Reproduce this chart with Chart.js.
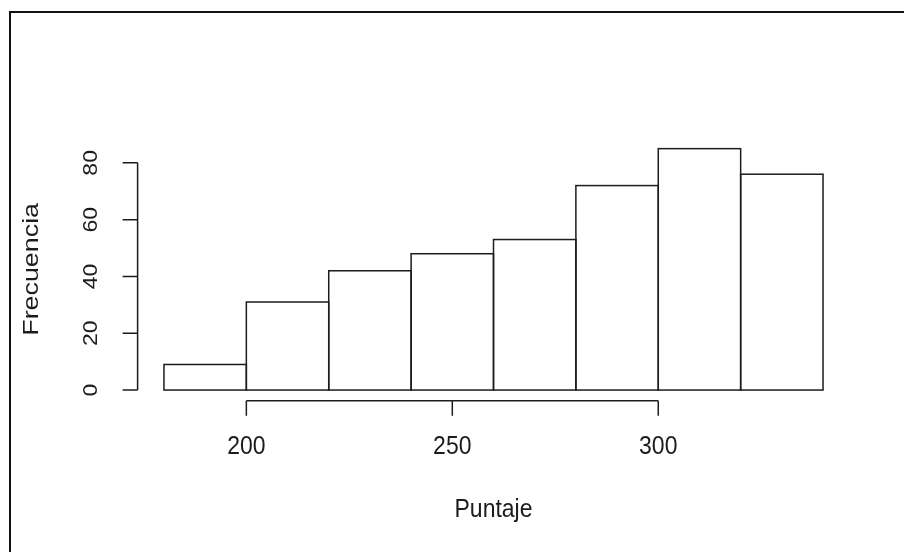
<!DOCTYPE html>
<html>
<head>
<meta charset="utf-8">
<script src="https://cdn.jsdelivr.net/npm/chart.js@4"></script>
<style>
  body { margin: 0; background: #fff; }
  #wrap { width: 904px; height: 552px; position: relative; }
</style>
</head>
<body>
<div id="wrap"><canvas id="myChart"></canvas></div>
<script>
// histogram data
const binEdges = [180, 200, 220, 240, 260, 280, 300, 320, 340];
const counts = [9, 31, 42, 48, 53, 72, 85, 76];
const xTicks = [200, 250, 300];
const yTicks = [0, 20, 40, 60, 80];
const xTitle = 'Puntaje';
const yTitle = 'Frecuencia';

const ink = '#1c1c1c';
const fontName = '"Liberation Sans", Arial, sans-serif';

// R style range: data range plus 4% on each side
const xMin = binEdges[0], xMax = binEdges[binEdges.length - 1];
const yMax = Math.max(...counts);
const xPad = (xMax - xMin) * 0.04;
const yPad = yMax * 0.04;

const points = counts.map((c, i) => ({ x: (binEdges[i] + binEdges[i + 1]) / 2, y: c }));

// text drawn a little taller than wide, like the picture
function stretchedText(ctx, txt, x, y, size, rotated, vStretch) {
    ctx.save();
    ctx.translate(x, y);
    if (rotated) {
        ctx.rotate(-Math.PI / 2);
        ctx.scale(vStretch, 1);
    } else {
        ctx.scale(1, vStretch);
    }
    ctx.font = size + 'px ' + fontName;
    ctx.fillStyle = ink;
    ctx.textAlign = 'center';
    ctx.textBaseline = 'middle';
    ctx.fillText(txt, 0, 0);
    ctx.restore();
}

const rPlot = {
    id: 'rPlot',
    beforeDraw(chart) {
        const ctx = chart.ctx;
        ctx.save();
        ctx.fillStyle = '#fff';
        ctx.fillRect(0, 0, chart.width, chart.height);
        // frame of the picture (left and top only are visible)
        ctx.fillStyle = '#111';
        ctx.fillRect(9, 11, 2, chart.height - 11);
        ctx.fillRect(9, 11, chart.width - 9, 2);
        ctx.restore();
    },
    afterDatasetsDraw(chart) {
        const ctx = chart.ctx;
        const meta = chart.getDatasetMeta(0);
        ctx.save();
        ctx.strokeStyle = ink;
        ctx.lineWidth = 1.5;
        meta.data.forEach(el => {
            const p = el.getProps(['x', 'y', 'base', 'width'], true);
            ctx.strokeRect(p.x - p.width / 2, p.y, p.width, p.base - p.y);
        });
        ctx.restore();
    },
    afterDraw(chart) {
        const ctx = chart.ctx;
        const xs = chart.scales.x, ys = chart.scales.y;
        const area = chart.chartArea;
        const tick = 15;
        ctx.save();
        ctx.strokeStyle = ink;
        ctx.lineWidth = 1.5;

        // x axis
        const ax = area.bottom + 1;
        ctx.beginPath();
        ctx.moveTo(xs.getPixelForValue(xTicks[0]), ax);
        ctx.lineTo(xs.getPixelForValue(xTicks[xTicks.length - 1]), ax);
        xTicks.forEach(v => {
            const px = xs.getPixelForValue(v);
            ctx.moveTo(px, ax);
            ctx.lineTo(px, ax + tick);
        });
        ctx.stroke();
        xTicks.forEach(v => {
            stretchedText(ctx, String(v), xs.getPixelForValue(v), ax + 46, 23, false, 1.15);
        });

        // y axis
        const ay = area.left;
        ctx.beginPath();
        ctx.moveTo(ay, ys.getPixelForValue(yTicks[0]));
        ctx.lineTo(ay, ys.getPixelForValue(yTicks[yTicks.length - 1]));
        yTicks.forEach(v => {
            const py = ys.getPixelForValue(v);
            ctx.moveTo(ay, py);
            ctx.lineTo(ay - tick, py);
        });
        ctx.stroke();
        yTicks.forEach(v => {
            stretchedText(ctx, String(v), ay - 46, ys.getPixelForValue(v), 20, true, 1.15);
        });

        // titles
        stretchedText(ctx, xTitle, (area.left + area.right) / 2, 510, 23, false, 1.1);
        stretchedText(ctx, yTitle, 32, (area.top + area.bottom) / 2, 22, true, 1.22);
        ctx.restore();
    }
};

window.onload = function () {
    const ctx = document.getElementById('myChart');
    new Chart(ctx, {
        type: 'bar',
        data: {
            datasets: [{
                label: 'Frecuencia',
                data: points,
                backgroundColor: '#ffffff',
                borderWidth: 0,
                barPercentage: 1,
                categoryPercentage: 1
            }]
        },
        options: {
            responsive: true,
            maintainAspectRatio: false,
            animation: false,
            layout: {
                padding: { left: 137.6, right: 54.6, top: 139, bottom: 152.3 }
            },
            plugins: { legend: { display: false }, tooltip: { enabled: false } },
            scales: {
                x: { type: 'linear', display: false, offset: false, min: xMin - xPad, max: xMax + xPad },
                y: { type: 'linear', display: false, min: -yPad, max: yMax + yPad }
            }
        },
        plugins: [rPlot]
    });
};
</script>
</body>
</html>
